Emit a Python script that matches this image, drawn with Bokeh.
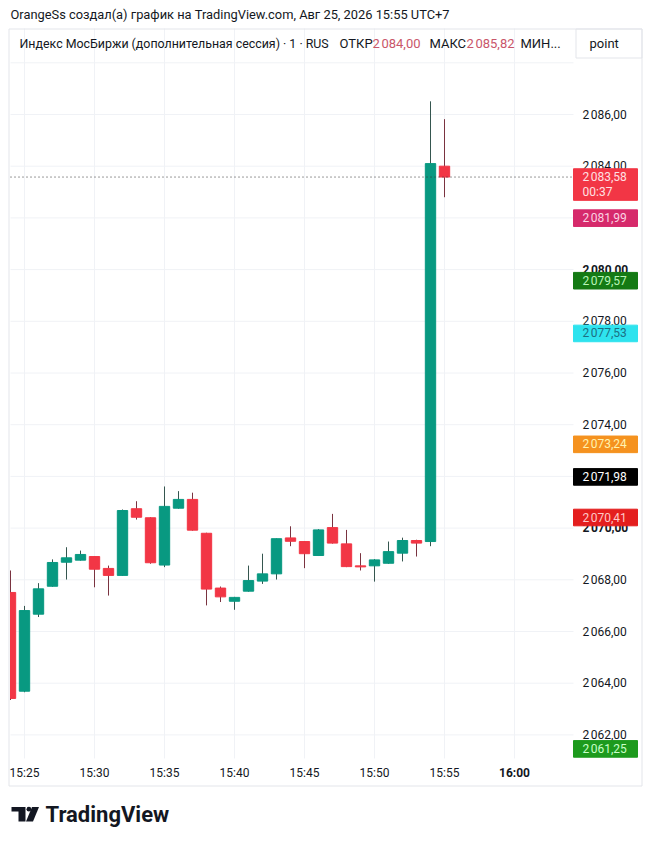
from bokeh.plotting import figure
from bokeh.models import Range1d
from bokeh.core.properties import value
from bokeh.embed import file_html
from bokeh.resources import INLINE

# ---------------- data ----------------
times = ["15:24", "15:25", "15:26", "15:27", "15:28", "15:29", "15:30", "15:31",
         "15:32", "15:33", "15:34", "15:35", "15:36", "15:37", "15:38", "15:39",
         "15:40", "15:41", "15:42", "15:43", "15:44", "15:45", "15:46", "15:47",
         "15:48", "15:49", "15:50", "15:51", "15:52", "15:53", "15:54", "15:55"]
opens = [2067.51, 2063.69, 2066.67, 2067.75, 2068.68, 2068.76, 2068.90, 2068.44,
         2068.17, 2070.75, 2070.40, 2068.57, 2070.77, 2071.11, 2069.80, 2067.68,
         2067.17, 2067.56, 2067.95, 2068.23, 2069.62, 2069.48, 2068.94, 2070.02,
         2069.39, 2068.54, 2068.54, 2068.64, 2069.03, 2069.52, 2069.48, 2084.00]
highs = [2068.36, 2066.99, 2067.87, 2068.79, 2069.26, 2069.13, 2068.92, 2068.55,
         2070.72, 2071.04, 2070.42, 2071.61, 2071.43, 2071.37, 2069.82, 2067.74,
         2067.34, 2068.55, 2069.01, 2069.60, 2070.07, 2069.50, 2069.96, 2070.55,
         2069.93, 2069.03, 2068.80, 2069.48, 2069.63, 2069.55, 2086.51, 2085.82]
lows = [2063.35, 2063.65, 2066.56, 2067.73, 2068.01, 2068.74, 2067.71, 2067.39,
        2068.15, 2070.33, 2068.62, 2068.49, 2070.75, 2069.90, 2067.01, 2067.14,
        2066.84, 2067.54, 2067.84, 2068.01, 2069.30, 2068.45, 2068.92, 2069.40,
        2068.49, 2068.36, 2067.93, 2068.62, 2068.71, 2068.90, 2069.30, 2082.80]
closes = [2063.41, 2066.81, 2067.65, 2068.67, 2068.85, 2068.98, 2068.41, 2068.17,
          2070.68, 2070.42, 2068.66, 2070.84, 2071.11, 2069.92, 2067.64, 2067.34,
          2067.32, 2067.97, 2068.23, 2069.59, 2069.49, 2069.01, 2069.93, 2069.42,
          2068.51, 2068.50, 2068.77, 2069.09, 2069.52, 2069.42, 2084.10, 2083.58]

time_ticks = ["15:25", "15:30", "15:35", "15:40", "15:45", "15:50", "15:55", "16:00"]
bold_times = ["16:00"]
grid_prices = [2062, 2064, 2066, 2068, 2070, 2072, 2074, 2076, 2078, 2080, 2082, 2084, 2086, 2088]
label_prices = [2062, 2064, 2066, 2068, 2074, 2076, 2078, 2084, 2086]
bold_prices = [2070, 2080]

last_price = 2083.58
countdown = "00:37"
marker_values = [2081.99, 2079.57, 2077.53, 2073.24, 2071.98, 2070.41, 2061.25]
marker_fill = ["#D62A6B", "#147A14", "#2EE3EE", "#F5921F", "#000000", "#E41E1E", "#1D9A1D"]
marker_text = ["#FBD3E3", "#B8F5B8", "#1C6F83", "#FFF3B0", "#FFFFFF", "#FFC8C8", "#C8FFC8"]

title_text = "OrangeSs создал(а) график на TradingView.com, Авг 25, 2026 15:55 UTC+7"
legend_name = "Индекс МосБиржи (дополнительная сессия) · 1 · RUS"
legend_open = ("ОТКР", 2084.00)
legend_high = ("МАКС", 2085.82)
legend_low = "МИН..."
unit_text = "point"
brand = "TradingView"


def to_min(t):
    return int(t[:2]) * 60 + int(t[3:])


def fmt_price(v):
    s = f"{v:,.2f}"
    return s.replace(",", "\u202f").replace(".", ",")


FONT = value("Roboto")
TXT = "#131722"
UP = "#089981"
DOWN = "#F23645"
UP_WICK = "#35564F"
DOWN_WICK = "#7A3340"
GRID = "#F0F2F6"
BORDER = "#E3E5EA"

W, H = 648, 840
PPM = 14.0      # pixels per minute
PPU = 25.85     # pixels per price unit
xr = Range1d(925 - 24 / PPM, 925 + (W - 24) / PPM)
yr = Range1d(2086 - (H - 114) / PPU, 2086 + 114 / PPU)


def px_x(px):
    return xr.start + px / PPM


def py_y(py):
    return yr.end - py / PPU


PANE_L, PANE_R, PANE_T, PANE_B = px_x(10), px_x(573), py_y(28), py_y(758)
SCALE_R = px_x(637)

p = figure(width=W, height=H, output_backend="svg", toolbar_location=None,
           x_range=xr, y_range=yr, x_axis_type=None, y_axis_type=None,
           min_border=0)
p.outline_line_color = None
p.background_fill_color = "white"
p.border_fill_color = "white"
p.xgrid.visible = False
p.ygrid.visible = False
p.extra_x_ranges = {"px": Range1d(0, W)}
p.extra_y_ranges = {"py": Range1d(H, 0)}

# grid
p.segment(x0=[PANE_L] * len(grid_prices), x1=[PANE_R] * len(grid_prices),
          y0=grid_prices, y1=grid_prices, line_color=GRID, line_width=1)
tx = [to_min(t) for t in time_ticks]
p.segment(x0=tx, x1=tx, y0=[PANE_B] * len(tx), y1=[PANE_T] * len(tx),
          line_color=GRID, line_width=1)

# outer border and unit box
p.quad(left=[8.5, 575.5], right=[641.5, 641.5], top=[28.5, 28.5], bottom=[785.5, 57.5],
       x_range_name="px", y_range_name="py", fill_alpha=0, line_color=BORDER, line_width=1)

# candles
xs = [to_min(t) for t in times]
half = 0.37
up = [c >= o for o, c in zip(opens, closes)]
p.segment(x0=xs, x1=xs, y0=highs, y1=lows,
          line_color=[UP_WICK if u else DOWN_WICK for u in up], line_width=1)
p.quad(left=[max(x - half, PANE_L) for x in xs], right=[x + half for x in xs],
       top=[max(o, c) for o, c in zip(opens, closes)],
       bottom=[min(o, c) for o, c in zip(opens, closes)],
       fill_color=[UP if u else DOWN for u in up],
       line_color=[UP if u else DOWN for u in up], line_width=1)

# last price dotted line
p.segment(x0=[PANE_L], x1=[PANE_R], y0=[last_price], y1=[last_price],
          line_color="#333333", line_dash="1 3", line_width=1)

# price scale labels
p.text(x=[PANE_R] * len(label_prices), y=label_prices,
       text=[fmt_price(v) for v in label_prices], x_offset=9,
       text_align="left", text_baseline="middle", text_font=FONT,
       text_font_size="12px", text_color=TXT)
p.text(x=[PANE_R] * len(bold_prices), y=bold_prices,
       text=[fmt_price(v) for v in bold_prices], x_offset=9,
       text_align="left", text_baseline="middle", text_font=FONT,
       text_font_size="12px", text_font_style="bold", text_color=TXT)

# time scale labels
norm_t = [t for t in time_ticks if t not in bold_times]
p.text(x=[to_min(t) for t in norm_t], y=[PANE_B] * len(norm_t), text=norm_t,
       y_offset=14, text_align="center", text_baseline="middle", text_font=FONT,
       text_font_size="12px", text_color=TXT)
p.text(x=[to_min(t) for t in bold_times], y=[PANE_B] * len(bold_times), text=bold_times,
       y_offset=14, text_align="center", text_baseline="middle", text_font=FONT,
       text_font_size="12px", text_font_style="bold", text_color=TXT)

# price markers
hb = 8.3 / PPU
mv = [max(v, PANE_B + hb + 0.05) for v in marker_values]
p.quad(left=[PANE_R] * len(mv), right=[SCALE_R] * len(mv),
       top=[v + hb for v in mv], bottom=[v - hb for v in mv],
       fill_color=marker_fill, line_color=marker_fill, line_width=1)
p.text(x=[PANE_R] * len(mv), y=mv, text=[fmt_price(v) for v in marker_values],
       x_offset=9, text_align="left", text_baseline="middle", text_font=FONT,
       text_font_size="12px", text_color=marker_text)
# last price marker (two lines)
lh = 15 / PPU
p.quad(left=[PANE_R], right=[SCALE_R], top=[last_price + hb], bottom=[last_price - hb - lh],
       fill_color=DOWN, line_color=DOWN, line_width=1)
p.text(x=[PANE_R, PANE_R], y=[last_price, last_price - lh],
       text=[fmt_price(last_price), countdown], x_offset=9,
       text_align="left", text_baseline="middle", text_font=FONT,
       text_font_size="12px", text_color="#FFE0E3")

# header
def px_text(x, y, text, size="13px", color=TXT, style="normal"):
    p.text(x=[x], y=[y], text=[text], x_range_name="px", y_range_name="py",
           text_align="left", text_baseline="middle", text_font=FONT,
           text_font_size=size, text_color=color, text_font_style=style)


px_text(10, 14, title_text, size="12.85px")
px_text(19, 43, legend_name, size="12.4px")
px_text(339, 43, legend_open[0])
px_text(372, 43, fmt_price(legend_open[1]), color="#C9566A")
px_text(429, 43, legend_high[0])
px_text(466, 43, fmt_price(legend_high[1]), color="#C9566A")
px_text(520, 43, legend_low)
px_text(589, 43, unit_text)

# TradingView logo
LOGO = "#131722"
p.patches(xs=[[11, 25, 25, 18, 18, 11], [31.5, 38.5, 32.5, 25.5]],
          ys=[[806.5, 806.5, 821, 821, 811, 811], [806.5, 806.5, 821, 821]],
          x_range_name="px", y_range_name="py", fill_color=LOGO, line_color=None)
p.scatter(x=[28.4], y=[808.7], size=4.8, x_range_name="px", y_range_name="py",
          fill_color=LOGO, line_color=None)
px_text(45, 814, brand, size="22px", color=LOGO, style="bold")

open("out.html", "w").write(file_html(p, INLINE))
